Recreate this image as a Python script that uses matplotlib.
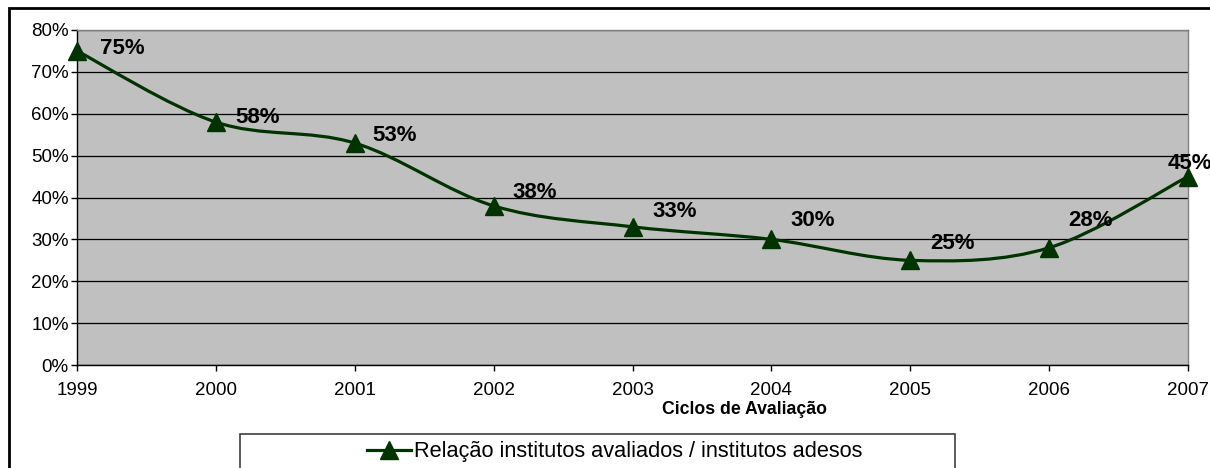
import matplotlib
matplotlib.use("Agg")
import matplotlib.pyplot as plt
from matplotlib.path import Path
from matplotlib.patches import PathPatch, Rectangle
from matplotlib.lines import Line2D
from matplotlib.ticker import PercentFormatter, MultipleLocator

plt.rcParams['font.family'] = ['Liberation Sans', 'DejaVu Sans']

# Data
years = [1999, 2000, 2001, 2002, 2003, 2004, 2005, 2006, 2007]
values = [75, 58, 53, 38, 33, 30, 25, 28, 45]
series_name = "Relação institutos avaliados / institutos adesos"
x_title = "Ciclos de Avaliação"

# label offsets in points (style)
label_offsets = [(16.5, 1.5), (13.7, 3), (12.3, 5.8), (13.3, 9.4), (14, 10.8), (14, 13.7),
                 (14.4, 12.2), (13.7, 19.5), (-15, 9.4)]

color = '#003300'

fig = plt.figure(figsize=(12.10, 4.68), dpi=100)
ax = fig.add_axes([77/1210, 1-365/468, (1188-77)/1210, (365-30)/468])
ax.set_facecolor('#C0C0C0')
ax.set_xlim(years[0], years[-1])
ax.set_ylim(0, 80)
ax.yaxis.set_major_locator(MultipleLocator(10))
ax.yaxis.set_major_formatter(PercentFormatter(decimals=0))
ax.set_xticks(years)
ax.set_xticklabels([str(y) for y in years])
ax.grid(axis='y', color='black', linewidth=0.9)
ax.set_axisbelow(True)
for s in ['top', 'right']:
    ax.spines[s].set_color('#808080')
    ax.spines[s].set_linewidth(1.0)
for s in ['left', 'bottom']:
    ax.spines[s].set_color('black')
    ax.spines[s].set_linewidth(1.0)
ax.tick_params(axis='both', direction='out', length=4, width=1, labelsize=13.5, color='black')
ax.tick_params(axis='x', pad=8)
ax.tick_params(axis='y', pad=2)

# Smoothed line (Excel-style Bezier through the data points)
n = len(years)
verts = [(years[0], values[0])]
codes = [Path.MOVETO]
for i in range(n - 1):
    x0, y0 = years[i], values[i]
    x1, y1 = years[i + 1], values[i + 1]
    xp, yp = (years[i - 1], values[i - 1]) if i > 0 else (x0, y0)
    xn, yn = (years[i + 2], values[i + 2]) if i + 2 < n else (x1, y1)
    c1 = (x0 + (x1 - xp) / 6, y0 + (y1 - yp) / 6)
    c2 = (x1 - (xn - x0) / 6, y1 - (yn - y0) / 6)
    verts += [c1, c2, (x1, y1)]
    codes += [Path.CURVE4, Path.CURVE4, Path.CURVE4]
ax.add_patch(PathPatch(Path(verts, codes), fill=False, edgecolor=color, linewidth=2.3,
                       transform=ax.transData, zorder=3, clip_on=False))
ax.plot(years, values, linestyle='none', marker='^', markersize=13, color=color, zorder=4, clip_on=False)

for x, v, (dx, dy) in zip(years, values, label_offsets):
    ax.annotate(f"{v}%", (x, v), xytext=(dx, dy), textcoords='offset points',
                ha='left', va='center', fontsize=16, fontweight='bold', color='black',
                annotation_clip=False, zorder=5)

fig.text(745/1210, 1-410/468, x_title, ha='center', va='center', fontsize=12.7, fontweight='bold')

# Legend box
fig.add_artist(Rectangle((240/1210, -0.05), (955-240)/1210, 1-434/468+0.05, transform=fig.transFigure,
                         fill=False, edgecolor='#404040', linewidth=1.2))
handle = Line2D([], [], color=color, linewidth=2.3, marker='^', markersize=13)
fig.legend([handle], [series_name], loc='center left', bbox_to_anchor=(367/1210, 1-452/468),
           frameon=False, fontsize=15.7, handlelength=2.0, handletextpad=0.15, borderpad=0, borderaxespad=0)

# Figure border
fig.add_artist(Rectangle((9/1210, -0.05), 1.1, 1-8/468+0.05, transform=fig.transFigure,
                         fill=False, edgecolor='black', linewidth=2))

fig.savefig('out.png', dpi=100)
